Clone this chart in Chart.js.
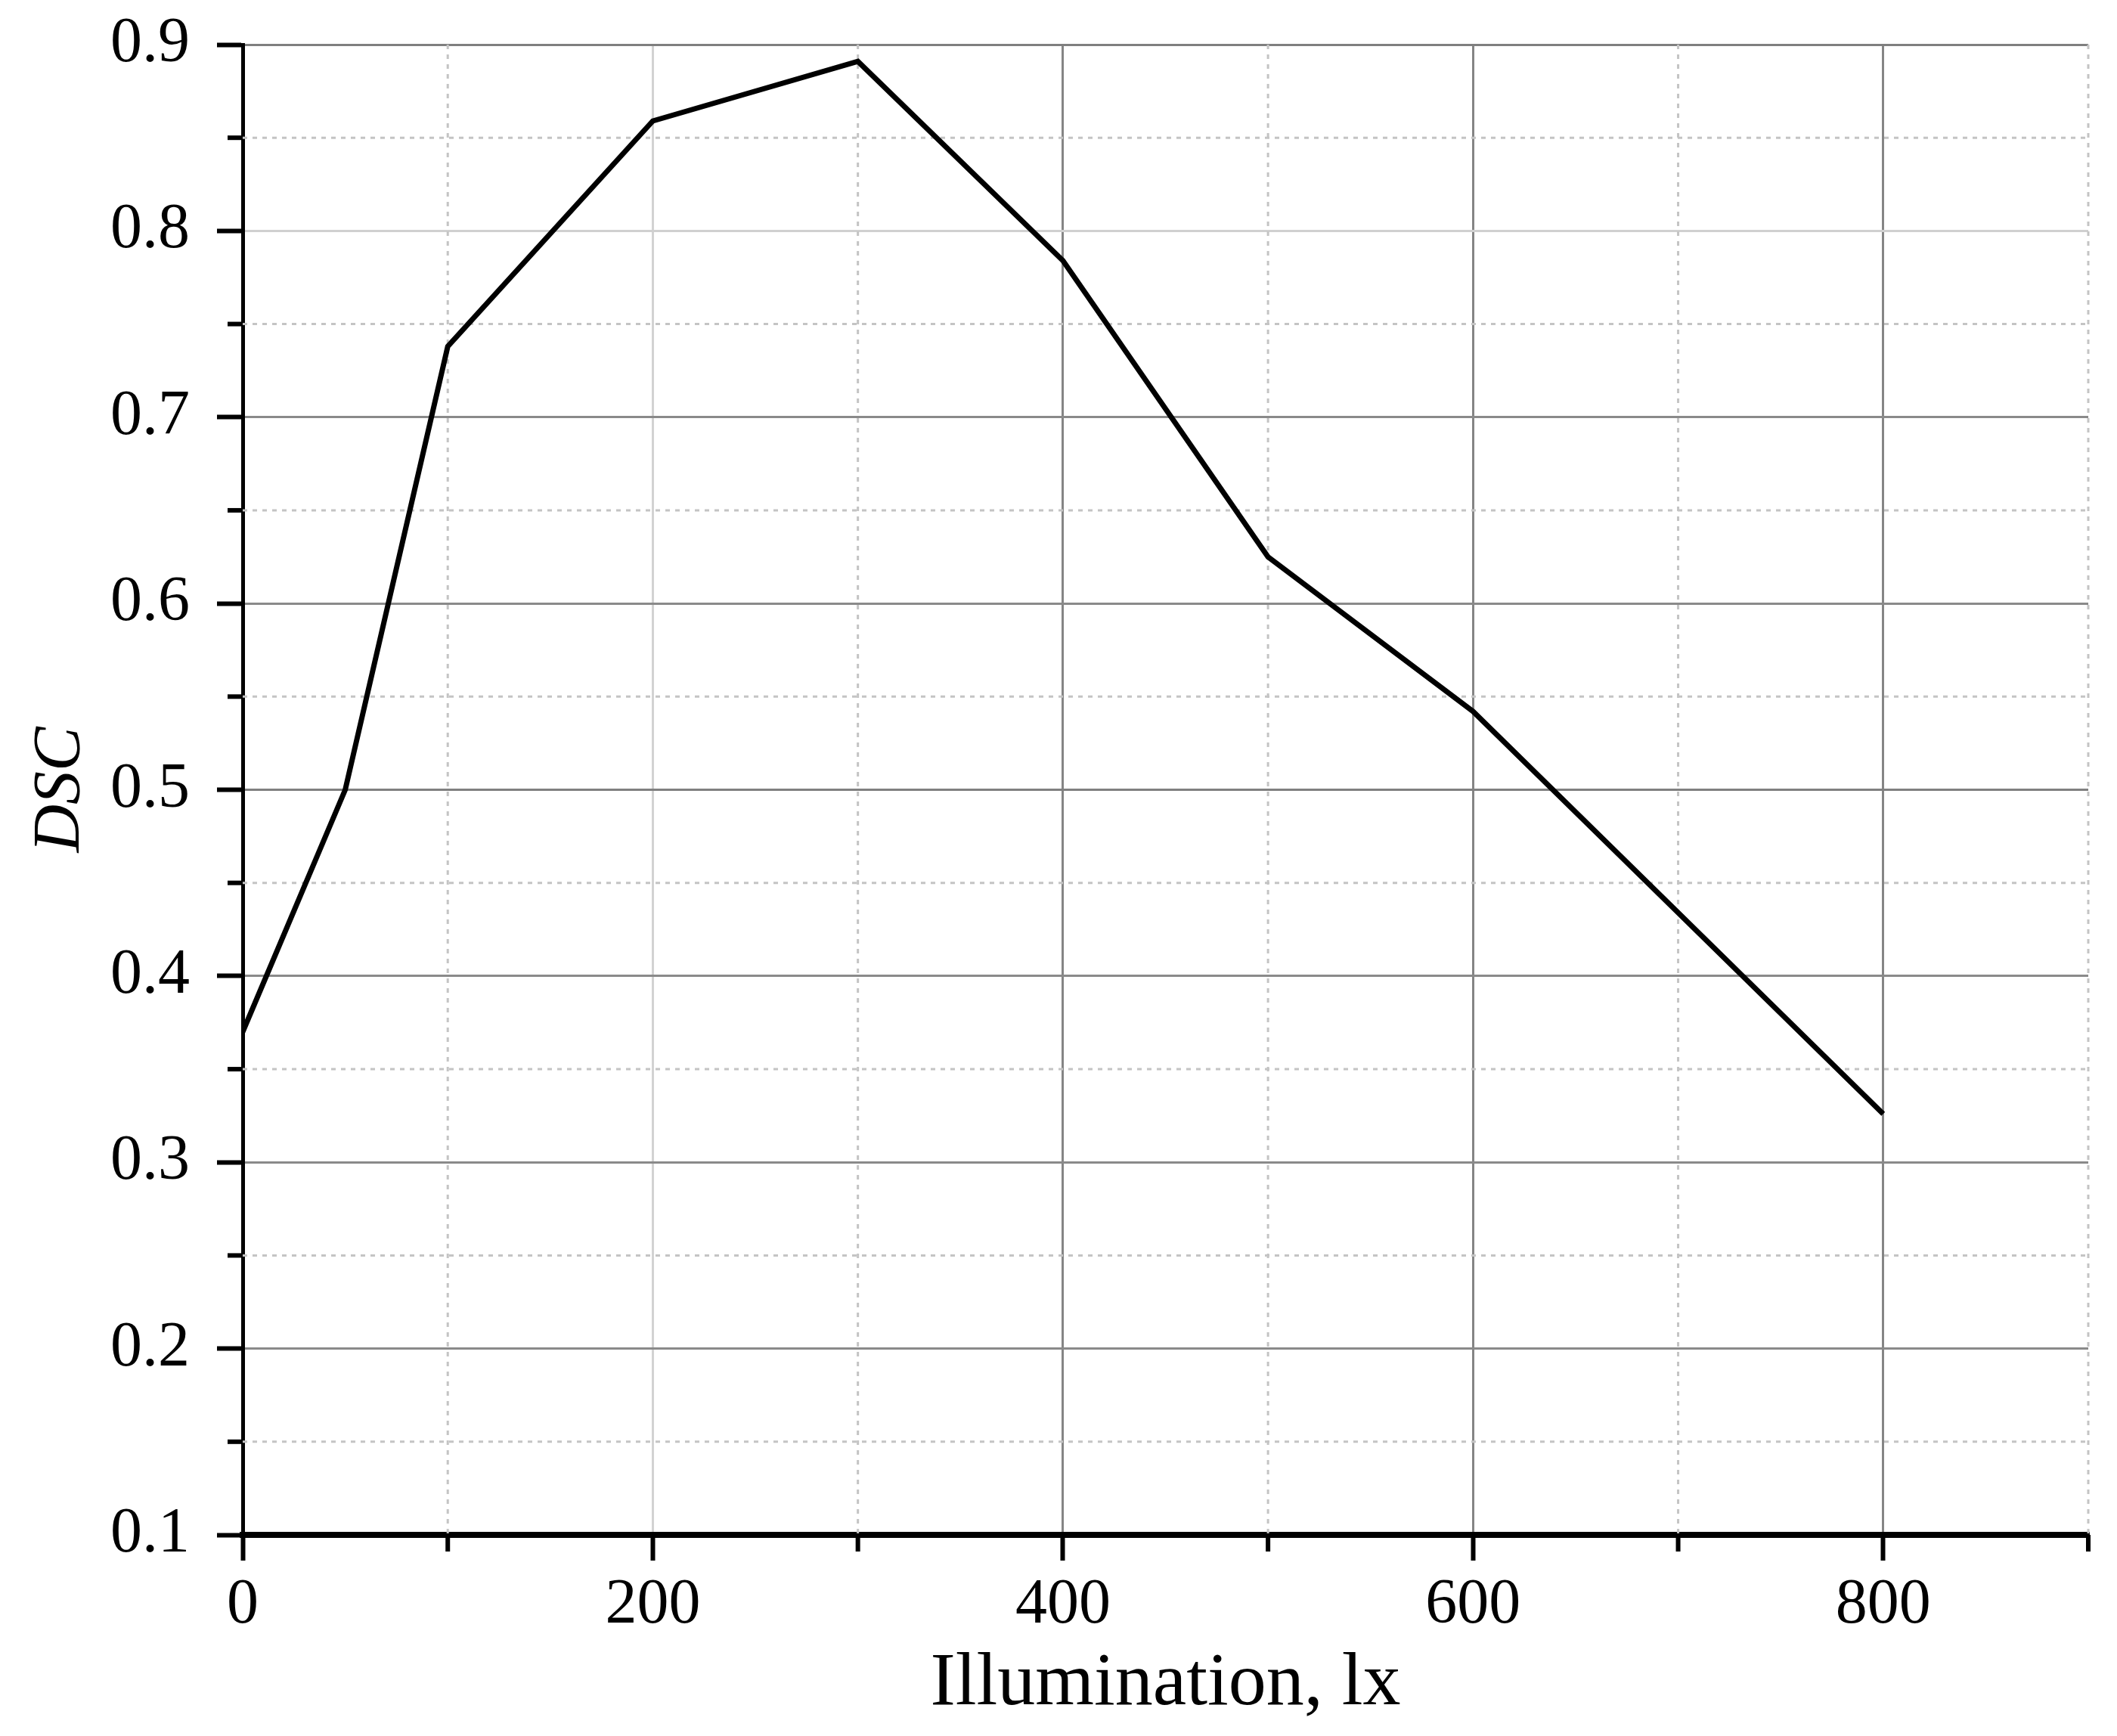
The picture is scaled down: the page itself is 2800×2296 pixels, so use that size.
<!DOCTYPE html>
<html>
<head>
<meta charset="utf-8">
<script src="https://cdn.jsdelivr.net/npm/chart.js@4.4.1/dist/chart.umd.min.js"></script>
<style>
  html, body { margin: 0; padding: 0; background: #fff; }
  #wrap { width: 2800px; height: 2296px; }
</style>
</head>
<body>
<div id="wrap"><canvas id="myChart" width="2800" height="2296"></canvas></div>
<script>
// illumination (lx) and DSC
var illumination = [0, 50, 100, 200, 300, 400, 500, 600, 800];
var dscValues = [0.370, 0.500, 0.738, 0.859, 0.891, 0.784, 0.625, 0.542, 0.326];

var xMin = 0, xMax = 900, xStep = 100, xLabelStep = 200;
var yMin = 0.1, yMax = 0.9, yStep = 0.05;

var majorGridX = { 0: '#9a9a9a', 200: '#d2d2d2', 400: '#858585', 600: '#858585', 800: '#858585' };
var majorGridY = { '0.9': '#7f7f7f', '0.8': '#d0d0d0', '0.7': '#8a8a8a', '0.6': '#8a8a8a',
                   '0.5': '#808080', '0.4': '#8a8a8a', '0.3': '#8a8a8a', '0.2': '#8a8a8a', '0.1': '#8a8a8a' };

function isMajorX(v) { return Math.round(v) % xLabelStep === 0; }
function isMajorY(v) { return Math.round(v * 100) % 10 === 0; }

var points = [];
for (var i = 0; i < illumination.length; i++) {
    points.push({ x: illumination[i], y: dscValues[i] });
}

// dotted minor grid + short minor ticks
var minorGrid = {
    id: 'minorGrid',
    beforeDatasetsDraw: function (chart) {
        var ctx = chart.ctx, area = chart.chartArea;
        var xs = chart.scales.x, ys = chart.scales.y;
        ctx.save();
        ctx.strokeStyle = '#c4c4c4';
        ctx.lineWidth = 3;
        ctx.setLineDash([6, 7]);
        xs.ticks.forEach(function (t) {
            if (isMajorX(t.value)) return;
            var px = xs.getPixelForValue(t.value);
            ctx.beginPath(); ctx.moveTo(px, area.top); ctx.lineTo(px, area.bottom); ctx.stroke();
        });
        ys.ticks.forEach(function (t) {
            if (isMajorY(t.value)) return;
            var py = ys.getPixelForValue(t.value);
            ctx.beginPath(); ctx.moveTo(area.left, py); ctx.lineTo(area.right, py); ctx.stroke();
        });
        ctx.restore();
    },
    afterDraw: function (chart) {
        var ctx = chart.ctx, area = chart.chartArea;
        var xs = chart.scales.x, ys = chart.scales.y;
        ctx.save();
        ctx.strokeStyle = '#000';
        ctx.lineWidth = 6;
        xs.ticks.forEach(function (t) {
            if (isMajorX(t.value)) return;
            var px = xs.getPixelForValue(t.value);
            ctx.beginPath(); ctx.moveTo(px, area.bottom); ctx.lineTo(px, area.bottom + 22); ctx.stroke();
        });
        ys.ticks.forEach(function (t) {
            if (isMajorY(t.value)) return;
            var py = ys.getPixelForValue(t.value);
            ctx.beginPath(); ctx.moveTo(area.left - 20, py); ctx.lineTo(area.left, py); ctx.stroke();
        });
        ctx.restore();
    }
};

var ctx = document.getElementById('myChart').getContext('2d');
var chart = new Chart(ctx, {
    type: 'line',
    data: {
        datasets: [{
            label: 'DSC',
            data: points,
            borderColor: '#000',
            borderWidth: 7,
            pointRadius: 0,
            tension: 0,
            fill: false
        }]
    },
    options: {
        responsive: false,
        animation: false,
        layout: { padding: { left: 0, right: 38, top: 59, bottom: 0 } },
        plugins: { legend: { display: false }, tooltip: { enabled: false } },
        scales: {
            x: {
                type: 'linear',
                min: xMin, max: xMax,
                afterFit: function (scale) { scale.height = 266; scale.paddingRight = 0; },
                border: { color: '#000', width: 8 },
                grid: {
                    color: function (c) { return isMajorX(c.tick.value) ? (majorGridX[c.tick.value] || '#858585') : 'rgba(0,0,0,0)'; },
                    lineWidth: 3,
                    tickLength: 34,
                    tickWidth: 6,
                    tickColor: function (c) { return isMajorX(c.tick.value) ? '#000' : 'rgba(0,0,0,0)'; }
                },
                ticks: {
                    stepSize: xStep,
                    autoSkip: false,
                    maxRotation: 0,
                    padding: 10,
                    color: '#000',
                    font: { family: 'Liberation Serif', size: 84 },
                    callback: function (v) { return isMajorX(v) ? String(v) : ''; }
                },
                title: {
                    display: true,
                    text: 'Illumination, lx',
                    color: '#000',
                    font: { family: 'Liberation Serif', size: 100 },
                    padding: { top: 0, bottom: 8 }
                }
            },
            y: {
                min: yMin, max: yMax,
                afterFit: function (scale) { scale.width = 321; scale.paddingTop = 0; scale.paddingBottom = 0; },
                border: { color: '#000', width: 5 },
                grid: {
                    color: function (c) { return isMajorY(c.tick.value) ? (majorGridY[c.tick.value.toFixed(1)] || '#8a8a8a') : 'rgba(0,0,0,0)'; },
                    lineWidth: 3,
                    tickLength: 34,
                    tickWidth: 6,
                    tickColor: function (c) { return isMajorY(c.tick.value) ? '#000' : 'rgba(0,0,0,0)'; }
                },
                ticks: {
                    stepSize: yStep,
                    autoSkip: false,
                    padding: 36,
                    color: '#000',
                    font: { family: 'Liberation Serif', size: 84 },
                    callback: function (v) { return isMajorY(v) ? v.toFixed(1) : ''; }
                },
                title: {
                    display: true,
                    text: 'DSC',
                    color: '#000',
                    font: { family: 'Liberation Serif', size: 88, style: 'italic' },
                    padding: { top: 28, bottom: 0 }
                }
            }
        }
    },
    plugins: [minorGrid]
});
</script>
</body>
</html>
